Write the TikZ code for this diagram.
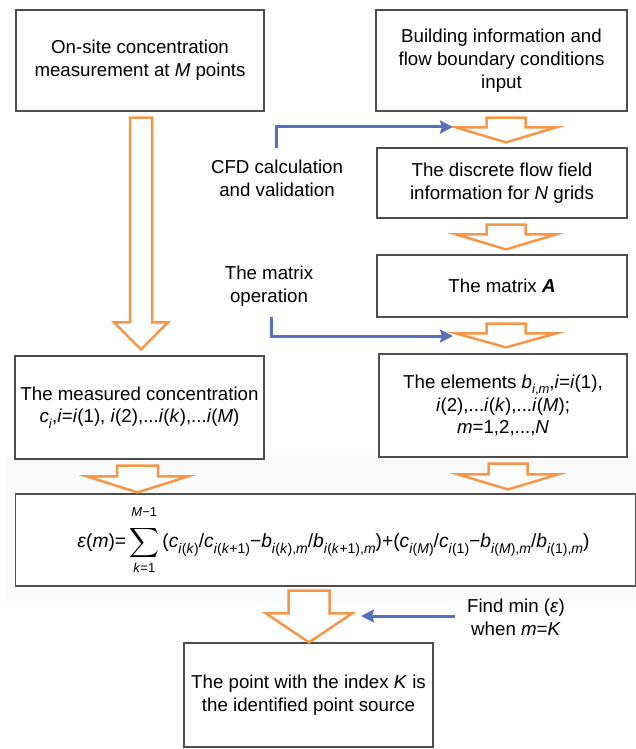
\documentclass[tikz,border=0pt]{standalone}
\usepackage{exscale}
\usepackage{fontspec}
\setmainfont{Liberation Sans}
\usetikzlibrary{calc,arrows.meta}
\definecolor{borange}{HTML}{F79646}
\definecolor{bblue}{HTML}{5471C1}
\definecolor{bgray}{HTML}{4D4D4D}
\newcommand\lo[1]{\raisebox{-0.3em}{\fontsize{13}{13}\selectfont #1}}
\newcommand\flo[1]{\raisebox{-0.3em}{\fontsize{14}{14}\selectfont #1}}
\newcommand\iv[1]{\textit{#1}}
% from, to, cx, shaft half, head half, top gap, head length, tip gap
\newcommand\barrow[8]{%
  \draw[oarrow] let \p1=(#1.south), \p2=(#2.north) in
    ({(#3-#4)*1pt},{\y1-#6*1pt}) -- ({(#3+#4)*1pt},{\y1-#6*1pt})
    -- ({(#3+#4)*1pt},{\y2+(#8+#7)*1pt}) -- ({(#3+#5)*1pt},{\y2+(#8+#7)*1pt})
    -- ({#3*1pt},{\y2+#8*1pt}) -- ({(#3-#5)*1pt},{\y2+(#8+#7)*1pt})
    -- ({(#3-#4)*1pt},{\y2+(#8+#7)*1pt}) -- cycle;}
\begin{document}
\begin{tikzpicture}[x=1pt,y=-1pt,
  box/.style={draw=bgray,line width=1.2pt,fill=white,align=center,inner sep=0pt,
    font=\fontsize{18.7}{22.8}\selectfont},
  lbl/.style={align=center,inner sep=0pt,font=\fontsize{18.7}{22.8}\selectfont},
  oarrow/.style={draw=borange,line width=2.5pt,fill=white,line join=miter},
  bline/.style={draw=bblue,line width=3pt,-{Stealth[length=13pt,width=13pt,inset=2pt]}}]
\useasboundingbox (0,0) rectangle (636,749);
\fill[gray!4] (7,455) rectangle (636,603);
% boxes
\node[box,minimum width=248pt,minimum height=101pt] (b1) at (140,60.5)
  {On-site concentration\\measurement at \iv{M} points};
\node[box,minimum width=251pt,minimum height=101pt] (b2) at (501.5,60.5)
  {Building information and\\flow boundary conditions\\input};
\node[box,minimum width=250pt,minimum height=70pt] (b3) at (502,183)
  {The discrete flow field\\information for \iv{N} grids};
\node[box,minimum width=250pt,minimum height=62pt] (b4) at (502,286)
  {The matrix \textbf{\textit{A}}};
\node[box,minimum width=249pt,minimum height=103pt] (b5) at (139.5,407.5)
  {The measured concentration\\\iv{c}\lo{\iv{i}},\iv{i}=\iv{i}(1), \iv{i}(2),...\iv{i}(\iv{k}),...\iv{i}(\iv{M})};
\node[box,minimum width=248pt,minimum height=103pt] (b6) at (503,405.5)
  {The elements \iv{b}\lo{\iv{i},\iv{m}},\iv{i}=\iv{i}(1),\\\iv{i}(2),...\iv{i}(\iv{k}),...\iv{i}(\iv{M});\\\iv{m}=1,2,...,\iv{N}};
\node[box,minimum width=620pt,minimum height=92pt,font=\fontsize{19.2}{23}\selectfont] (f) at (325.5,540)
  {\hspace*{16pt}\iv{ε}(\iv{m})=\,$\displaystyle\sum\limits_{\mbox{\fontsize{13}{13}\selectfont\iv{k}=1}}^{\raisebox{5pt}{\fontsize{13}{13}\selectfont\iv{M}−1}}$\,(\iv{c}\flo{\iv{i}(\iv{k})}/\iv{c}\flo{\iv{i}(\iv{k}+1)}−\iv{b}\flo{\iv{i}(\iv{k}),\iv{m}}/\iv{b}\flo{\iv{i}(\iv{k}+1),\iv{m}})+(\iv{c}\flo{\iv{i}(\iv{M})}/\iv{c}\flo{\iv{i}(1)}−\iv{b}\flo{\iv{i}(\iv{M}),\iv{m}}/\iv{b}\flo{\iv{i}(1),\iv{m}})};
\node[box,minimum width=249pt,minimum height=104pt] (g) at (308.5,695)
  {The point with the index \iv{K} is\\the identified point source};
% labels
\node[lbl] (cfd) at (277,178) {CFD calculation\\and validation};
\node[lbl] (mop) at (269,286) {The matrix\\operation};
\node[lbl] (fmin) at (516,617) {Find min (\iv{ε})\\when \iv{m}=\iv{K}};
% orange block arrows
\barrow{b2}{b3}{506}{19.5}{50}{6}{15}{5}
\barrow{b3}{b4}{506}{19.5}{50}{6}{15}{5}
\barrow{b4}{b6}{506}{19.5}{50}{6}{14}{6}
\barrow{b6}{f}{508}{19.5}{50}{6}{15}{4}
\barrow{b5}{f}{137.5}{20.5}{50.5}{6}{16}{1}
\barrow{b1}{b5}{141}{11}{27}{6}{27}{6}
\barrow{f}{g}{309}{20.5}{43}{4}{29}{0}
% blue connectors
\coordinate (t1) at (453,127);
\coordinate (t2) at (453,336);
\coordinate (t3) at (361,616);
\draw[bline] (276,148) |- (t1);
\draw[bline] (271,317) |- (t2);
\draw[bline] ([xshift=-12pt]fmin.west |- t3) -- (t3);
\end{tikzpicture}
\end{document}
